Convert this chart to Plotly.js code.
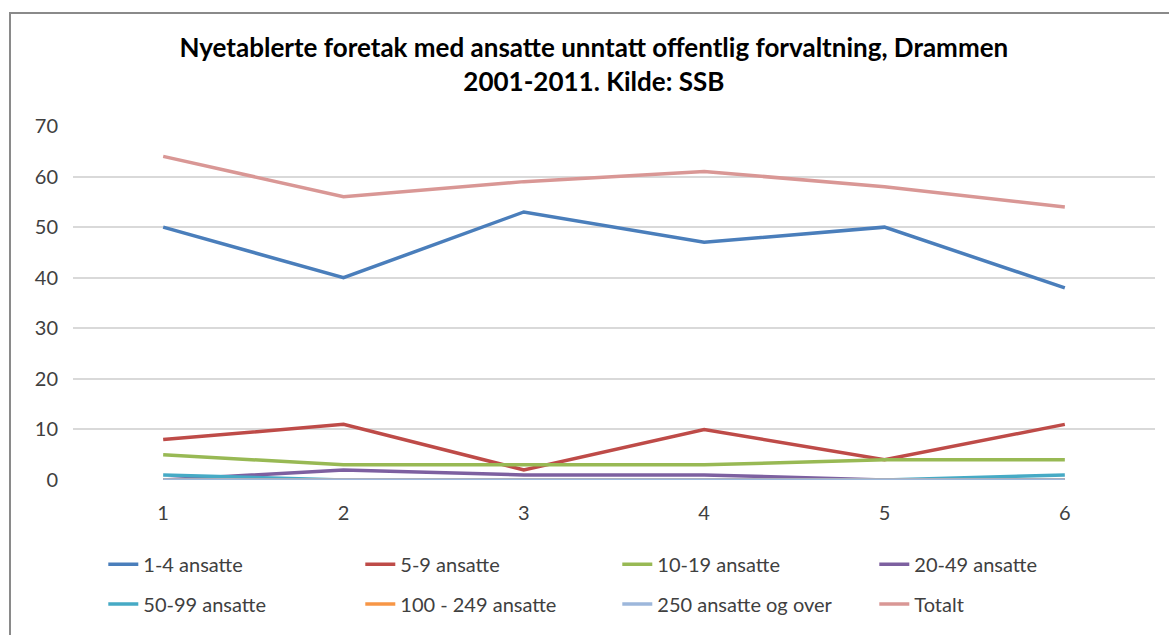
<!DOCTYPE html>
<html>
<head>
<meta charset="utf-8">
<script src="https://cdn.plot.ly/plotly-3.0.1.min.js"></script>
<style>
  body { margin: 0; background: #fff; }
  #chart { position: absolute; left: 0; top: 0; width: 1169px; height: 635px; }
  #frame { position: absolute; left: 9px; top: 12px; width: 1170px; height: 640px;
           border-left: 2px solid #8a8a8a; border-top: 2px solid #8a8a8a; pointer-events: none; }
</style>
</head>
<body>
<div id="chart"></div>
<div id="frame"></div>
<script>
// categories on the x axis
var periods = [1, 2, 3, 4, 5, 6];

// series
var seriesNames = ["1-4 ansatte", "5-9 ansatte", "10-19 ansatte", "20-49 ansatte",
                   "50-99 ansatte", "100 - 249 ansatte", "250 ansatte og over", "Totalt"];
var ans1to4   = [50, 40, 53, 47, 50, 38];
var ans5to9   = [8, 11, 2, 10, 4, 11];
var ans10to19 = [5, 3, 3, 3, 4, 4];
var ans20to49 = [0, 2, 1, 1, 0, 0];
var ans50to99 = [1, 0, 0, 0, 0, 1];
var ans100to249 = [0, 0, 0, 0, 0, 0];
var ans250plus  = [0, 0, 0, 0, 0, 0];
var totalt    = [64, 56, 59, 61, 58, 54];

var yTicks = [0, 10, 20, 30, 40, 50, 60, 70];

var values = [ans1to4, ans5to9, ans10to19, ans20to49, ans50to99, ans100to249, ans250plus, totalt];
var colors = ["#4A7EBB", "#BE4B48", "#98B954", "#7D60A0", "#46AAC5", "#F79646", "#9DB7DB", "#D99795"];

var data = values.map(function(vals, i) {
    return {
        x: periods,
        y: vals,
        name: seriesNames[i],
        type: "scatter",
        mode: "lines",
        line: {color: colors[i], width: 3.5},
        legend: i < 4 ? "legend" : "legend2",
        hoverinfo: "skip"
    };
});

var legendFont = {family: "Lato, sans-serif", size: 20, color: "#404040"};

var layout = {
    width: 1169,
    height: 635,
    margin: {l: 73, r: 14, t: 126, b: 146},
    paper_bgcolor: "rgba(0,0,0,0)",
    plot_bgcolor: "rgba(0,0,0,0)",
    font: {family: "Lato, sans-serif", color: "#404040"},
    title: {
        text: "Nyetablerte foretak med ansatte unntatt offentlig forvaltning, Drammen<br>2001-2011. Kilde: SSB",
        font: {family: "Lato, sans-serif", size: 26, color: "#000", weight: "bold"},
        xref: "container", x: 0.508, xanchor: "center",
        yref: "container", y: 0.91, yanchor: "middle"
    },
    xaxis: {
        range: [0.5, 6.5],
        tickvals: periods,
        ticktext: periods.map(String),
        showgrid: false,
        zeroline: false,
        showline: false,
        ticks: "",
        ticklabelstandoff: 19,
        tickfont: {family: "Lato, sans-serif", size: 20, color: "#404040"}
    },
    yaxis: {
        range: [0, 70],
        tickvals: yTicks,
        showgrid: true,
        gridcolor: "#D9D9D9",
        gridwidth: 2,
        zeroline: false,
        showline: false,
        ticks: "",
        ticklabelstandoff: 14,
        tickfont: {family: "Lato, sans-serif", size: 20, color: "#404040"}
    },
    showlegend: true,
    legend: {
        orientation: "h",
        x: 0.028, xanchor: "left",
        y: -0.238, yanchor: "middle",
        entrywidth: 212, entrywidthmode: "pixels",
        font: legendFont,
        bgcolor: "rgba(0,0,0,0)"
    },
    legend2: {
        orientation: "h",
        x: 0.028, xanchor: "left",
        y: -0.35, yanchor: "middle",
        entrywidth: 212, entrywidthmode: "pixels",
        font: legendFont,
        bgcolor: "rgba(0,0,0,0)"
    }
};

Plotly.newPlot("chart", data, layout, {displayModeBar: false, staticPlot: true});
</script>
</body>
</html>
